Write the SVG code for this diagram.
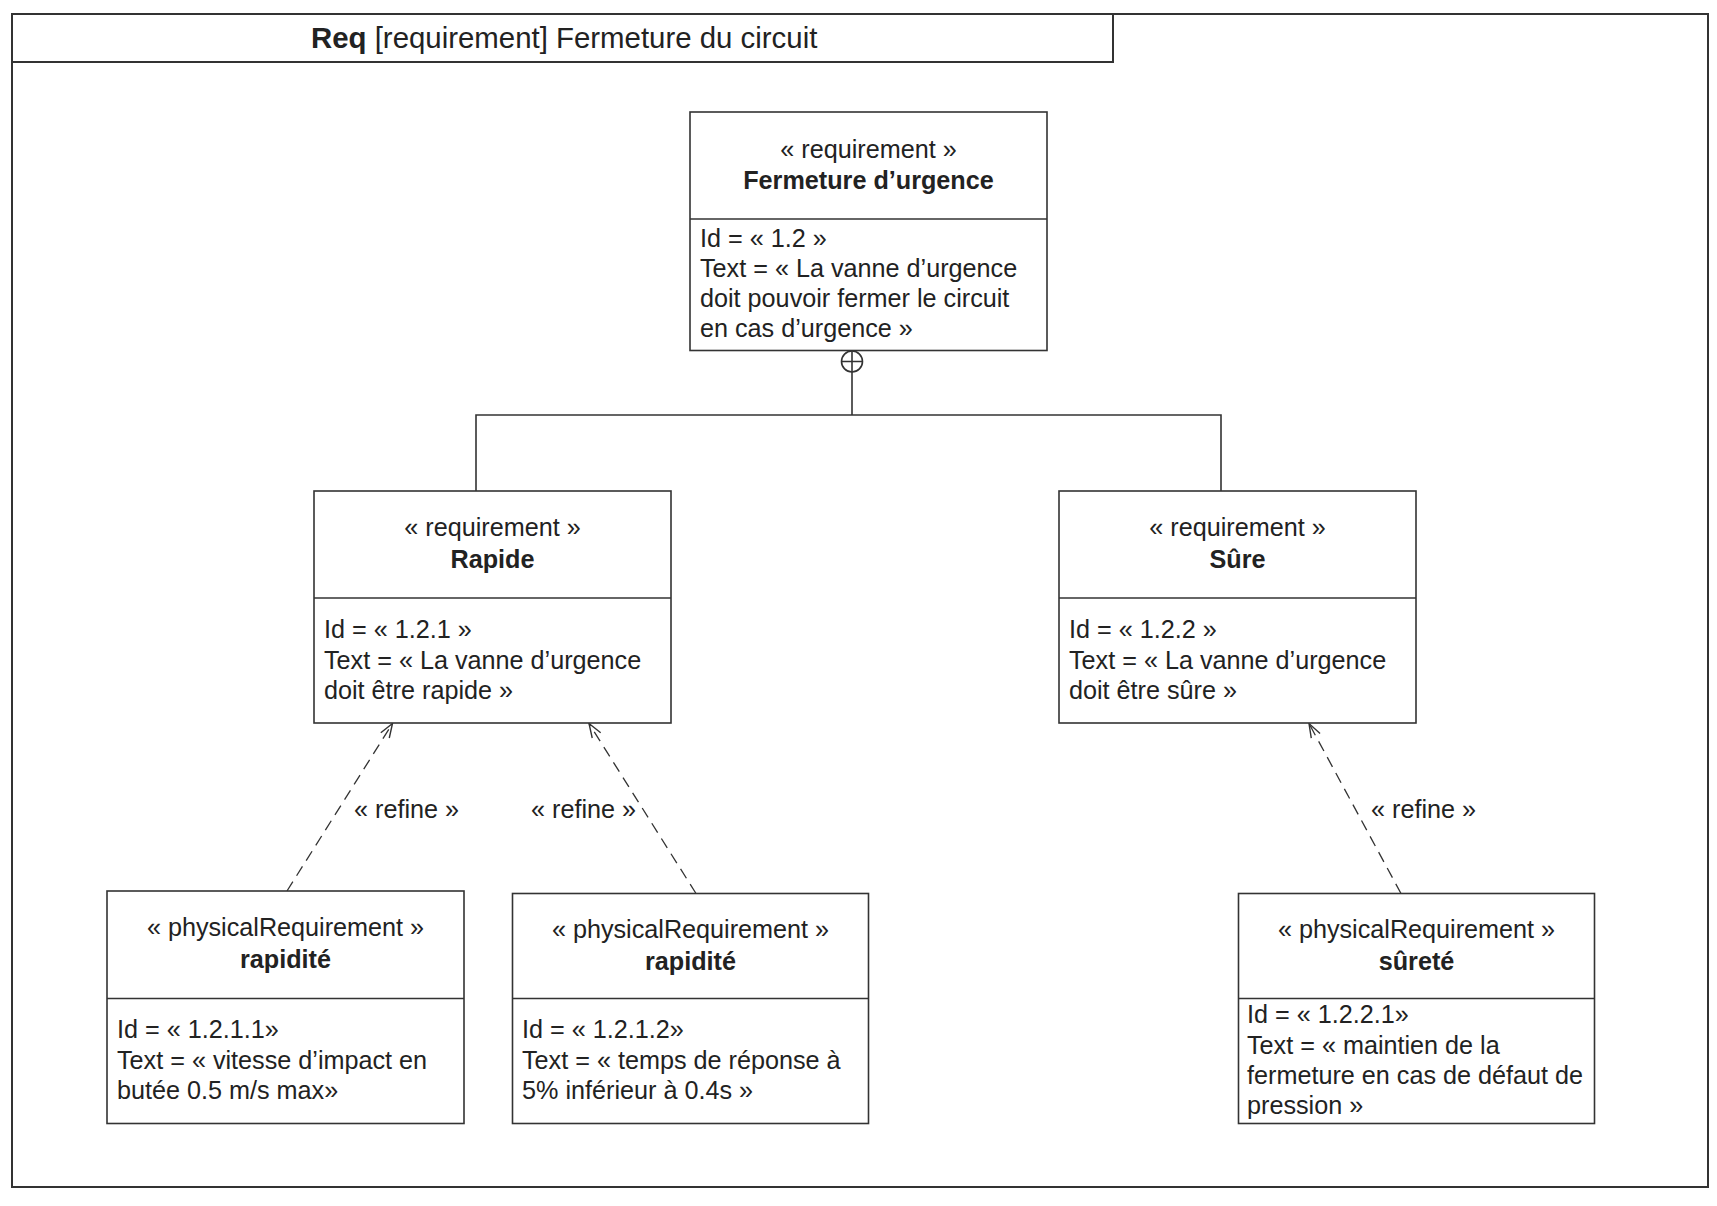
<svg xmlns="http://www.w3.org/2000/svg" width="1717" height="1206" viewBox="0 0 1717 1206">
  <style>
    text { font-family: "Liberation Sans", Arial, sans-serif; font-size: 25.2px; fill: #222; }
    .c { text-anchor: middle; }
    .b { font-weight: bold; }
    .box { fill: #fff; stroke: #333; stroke-width: 1.6; }
    .sep { stroke: #333; stroke-width: 1.6; }
    .frame { fill: none; stroke: #333; stroke-width: 2; }
    .comp { fill: none; stroke: #333; stroke-width: 1.6; }
    .dep { fill: none; stroke: #333; stroke-width: 1.3; stroke-dasharray: 11 7; }
  </style>
  <defs>
    <marker id="open" viewBox="0 0 16 12" refX="15" refY="6" markerWidth="16" markerHeight="12" markerUnits="userSpaceOnUse" orient="auto">
      <path d="M1 1 L15 6 L1 11" fill="none" stroke="#333" stroke-width="1.4"/>
    </marker>
  </defs>
  <rect width="1717" height="1206" fill="#fff"/>

  <!-- diagram frame and header -->
  <g id="frame">
    <rect class="frame" x="12" y="14" width="1696" height="1173"/>
    <path class="frame" d="M12 62 H1113 V14"/>
    <text x="311" y="48" style="font-size:29.4px"><tspan class="b">Req</tspan> [requirement] Fermeture du circuit</text>
  </g>

  <!-- connectors -->
  <g id="connectors">
    <g id="containment">
      <circle class="comp" cx="852" cy="361.5" r="10.5"/>
      <path class="comp" d="M841.5 361.5 H862.5 M852 351 V415 M476 491 V415 H1221 V491"/>
    </g>
    <g id="refine-1">
      <line class="dep" x1="287" y1="891" x2="392.5" y2="723.5" marker-end="url(#open)"/>
      <text x="354" y="818">« refine »</text>
    </g>
    <g id="refine-2">
      <line class="dep" x1="696" y1="893.5" x2="589" y2="723.5" marker-end="url(#open)"/>
      <text x="531" y="818">« refine »</text>
    </g>
    <g id="refine-3">
      <line class="dep" x1="1401" y1="893.5" x2="1309" y2="723.5" marker-end="url(#open)"/>
      <text x="1371" y="818">« refine »</text>
    </g>
  </g>

  <!-- requirement 1.2 -->
  <g id="req-1-2">
    <rect class="box" x="690" y="112" width="357" height="238.5"/>
    <line class="sep" x1="690" y1="219" x2="1047" y2="219"/>
    <text class="c" x="868.5" y="158">« requirement »</text>
    <text class="c b" x="868.5" y="189">Fermeture d’urgence</text>
    <text x="700" y="247">Id = « 1.2 »</text>
    <text x="700" y="277">Text = « La vanne d’urgence</text>
    <text x="700" y="307">doit pouvoir fermer le circuit</text>
    <text x="700" y="337">en cas d’urgence »</text>
  </g>

  <!-- requirement 1.2.1 -->
  <g id="req-1-2-1">
    <rect class="box" x="314" y="491" width="357" height="232"/>
    <line class="sep" x1="314" y1="598" x2="671" y2="598"/>
    <text class="c" x="492.5" y="536">« requirement »</text>
    <text class="c b" x="492.5" y="568">Rapide</text>
    <text x="324" y="638">Id = « 1.2.1 »</text>
    <text x="324" y="669">Text = « La vanne d’urgence</text>
    <text x="324" y="699">doit être rapide »</text>
  </g>

  <!-- requirement 1.2.2 -->
  <g id="req-1-2-2">
    <rect class="box" x="1059" y="491" width="357" height="232"/>
    <line class="sep" x1="1059" y1="598" x2="1416" y2="598"/>
    <text class="c" x="1237.5" y="536">« requirement »</text>
    <text class="c b" x="1237.5" y="568">Sûre</text>
    <text x="1069" y="638">Id = « 1.2.2 »</text>
    <text x="1069" y="669">Text = « La vanne d’urgence</text>
    <text x="1069" y="699">doit être sûre »</text>
  </g>

  <!-- physical requirement 1.2.1.1 -->
  <g id="req-1-2-1-1">
    <rect class="box" x="107" y="891" width="357" height="232.5"/>
    <line class="sep" x1="107" y1="998.5" x2="464" y2="998.5"/>
    <text class="c" x="285.5" y="936">« physicalRequirement »</text>
    <text class="c b" x="285.5" y="968">rapidité</text>
    <text x="117" y="1038">Id = « 1.2.1.1»</text>
    <text x="117" y="1069">Text = « vitesse d’impact en</text>
    <text x="117" y="1099">butée 0.5 m/s max»</text>
  </g>

  <!-- physical requirement 1.2.1.2 -->
  <g id="req-1-2-1-2">
    <rect class="box" x="512.5" y="893.5" width="356" height="230"/>
    <line class="sep" x1="512.5" y1="998.5" x2="868.5" y2="998.5"/>
    <text class="c" x="690.5" y="938">« physicalRequirement »</text>
    <text class="c b" x="690.5" y="970">rapidité</text>
    <text x="522" y="1038">Id = « 1.2.1.2»</text>
    <text x="522" y="1069">Text = « temps de réponse à</text>
    <text x="522" y="1099">5% inférieur à 0.4s »</text>
  </g>

  <!-- physical requirement 1.2.2.1 -->
  <g id="req-1-2-2-1">
    <rect class="box" x="1238.5" y="893.5" width="356" height="230"/>
    <line class="sep" x1="1238.5" y1="998.5" x2="1594.5" y2="998.5"/>
    <text class="c" x="1416.5" y="938">« physicalRequirement »</text>
    <text class="c b" x="1416.5" y="970">sûreté</text>
    <text x="1247" y="1023">Id = « 1.2.2.1»</text>
    <text x="1247" y="1054">Text = « maintien de la</text>
    <text x="1247" y="1084">fermeture en cas de défaut de</text>
    <text x="1247" y="1114">pression »</text>
  </g>
</svg>
